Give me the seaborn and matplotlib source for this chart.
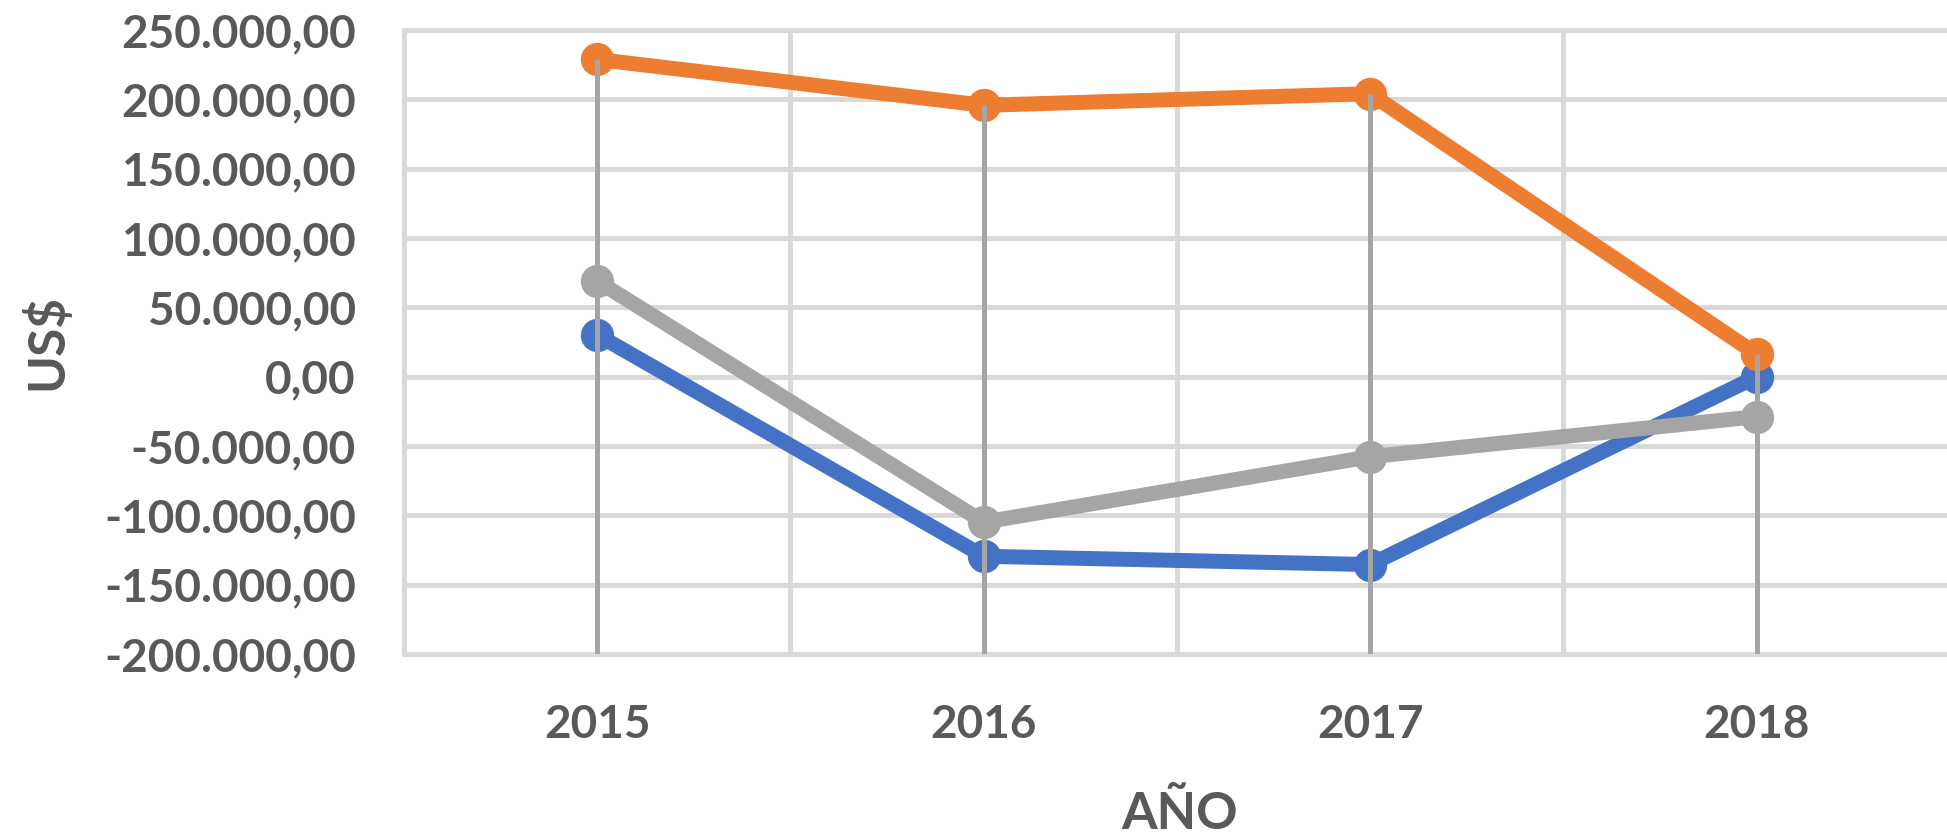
import numpy as np
import pandas as pd
import matplotlib
matplotlib.use("Agg")
import matplotlib.pyplot as plt
import matplotlib.ticker as mticker
import seaborn as sns

# Datos
years = ["2015", "2016", "2017", "2018"]
serie_1 = [30200, -129500, -135500, 0]          # azul
serie_2 = [228800, 195700, 204100, 16200]       # naranja
serie_3 = [69000, -104900, -57700, -28800]      # gris
series_names = ["Serie 1", "Serie 2", "Serie 3"]
colors = ["#4472C4", "#ED7D31", "#A5A5A5"]
y_ticks = list(range(-200000, 250001, 50000))

df = pd.DataFrame({
    "year": years * 3,
    "value": serie_1 + serie_2 + serie_3,
    "serie": [n for n in series_names for _ in years],
})

sns.set_theme(style="white")
plt.rcParams["font.family"] = ["Lato", "DejaVu Sans"]
text_color = "#595959"
grid_color = "#D9D9D9"

fig = plt.figure(figsize=(19.47, 8.34), dpi=100)
ax = fig.add_axes([0.2075, 0.2158, 0.7940, 0.7482])

sns.pointplot(data=df, x="year", y="value", hue="serie", order=years,
              hue_order=series_names, palette=colors, markers="o",
              linestyles="-", dodge=False, errorbar=None, legend=False,
              markersize=24, linewidth=10.8, markeredgewidth=0, ax=ax)

# lineas de caida (drop lines) desde el valor mas alto de cada año
top = np.max([serie_1, serie_2, serie_3], axis=0)
ax.vlines(range(len(years)), y_ticks[0], top, color="#A5A5A5", lw=3.6, zorder=6)

ax.set_xlim(-0.5, len(years) - 0.5)
ax.set_ylim(y_ticks[0], y_ticks[-1])
ax.set_yticks(y_ticks)
ax.yaxis.set_major_formatter(mticker.FuncFormatter(
    lambda v, p: f"{v:,.2f}".replace(",", "X").replace(".", ",").replace("X", ".")))
ax.set_xticks(range(len(years)))
ax.set_xticklabels(years)
ax.set_xticks(np.arange(-0.5, len(years), 1.0), minor=True)

ax.set_axisbelow(True)
ax.grid(False)
ax.yaxis.grid(True, which="major", color=grid_color, lw=3.6)
ax.xaxis.grid(True, which="minor", color=grid_color, lw=3.6)
for t in ax.xaxis.get_minor_ticks() + ax.yaxis.get_major_ticks():
    t.gridline.set_clip_on(False)
for s in ax.spines.values():
    s.set_visible(False)

ax.tick_params(axis="both", which="both", length=0)
ax.tick_params(axis="y", pad=34.6, labelsize=33, labelcolor=text_color)
ax.tick_params(axis="x", pad=36, labelsize=33, labelcolor=text_color)
for lab in ax.get_xticklabels() + ax.get_yticklabels():
    lab.set_fontweight("bold")

ax.set_xlabel("AÑO", fontsize=37, color=text_color, fontweight="bold")
ax.set_ylabel("US$", fontsize=37, color=text_color, fontweight="bold")
ax.xaxis.set_label_coords(0.502, -0.280)
ax.xaxis.label.set_va("baseline")
ax.yaxis.set_label_coords(-0.221, 0.5)
ax.yaxis.label.set_va("baseline")

fig.savefig("out.png", dpi=100)
